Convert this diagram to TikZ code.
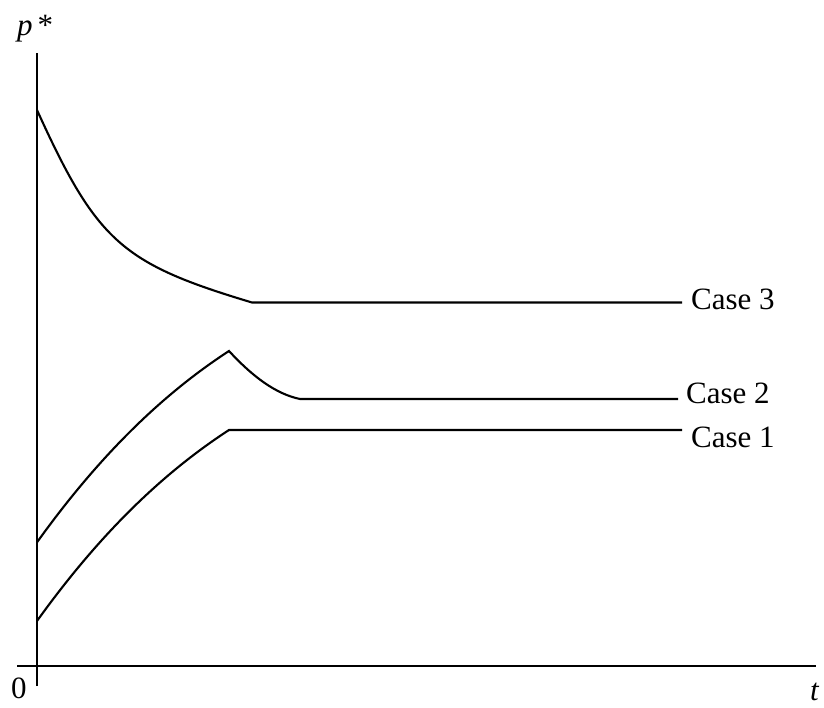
\documentclass[tikz,border=0pt]{standalone}
\usepackage{fontspec}
\setmainfont{Liberation Serif}
\begin{document}
\begin{tikzpicture}[x=1pt,y=-1pt,
  curve/.style={line width=2.1pt, line join=miter},
  axis/.style={line width=2.1pt},
  lab/.style={font=\fontsize{31}{37}\selectfont, inner sep=0pt}]
\useasboundingbox (0,0) rectangle (824,707);
% axes
\coordinate (ytop) at (37,53);
\coordinate (ybot) at (37,686);
\coordinate (xl) at (17,666);
\coordinate (xr) at (816,666);
\draw[axis] (ybot) -- (ytop);
\draw[axis] (xl) -- (xr);
\node[lab, anchor=base west] (plab) at (17,35) {\textit{p}\hspace{5pt}*};
\node[lab, anchor=base west] (zero) at (11,698) {0};
\node[lab, anchor=base west] (tlab) at (810,700) {\textit{t}};
% labels
\node[lab, anchor=base west] (c3) at (691,309) {Case 3};
\node[lab, anchor=base west] (c2) at (686,403) {Case 2};
\node[lab, anchor=base west] (c1) at (691,447) {Case 1};
\coordinate (e3) at (682,302.5);
\coordinate (e2) at (678,399);
\coordinate (e1) at (682,430);
% Case 3
\draw[curve] (37,110) .. controls (97,242) and (122,263.5) .. (252,302.5) -- (e3);
% Case 2
\draw[curve] (37,542.3) .. controls (101.3,452.7) and (165,392.6) .. (229,351)
  .. controls (253,377) and (276,394) .. (300,399) -- (e2);
% Case 1
\draw[curve] (37,621) .. controls (101.3,531.4) and (165,471.6) .. (229,430) -- (e1);
\end{tikzpicture}
\end{document}
